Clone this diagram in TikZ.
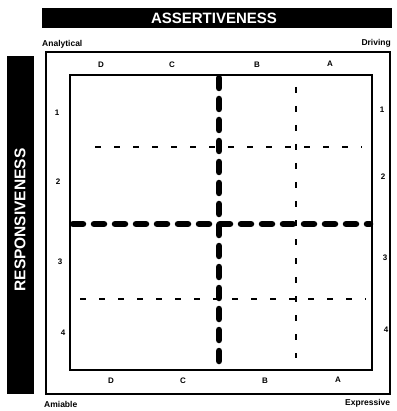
\documentclass[tikz,border=0pt]{standalone}
\usepackage{fontspec}
\setmainfont{Liberation Sans}
\begin{document}
\begin{tikzpicture}[x=1pt,y=-1pt,
  banner/.style={text=white, font=\bfseries\fontsize{15}{16}\selectfont, inner sep=0},
  corner/.style={font=\bfseries\fontsize{8.5}{9}\selectfont, inner sep=0},
  lbl/.style={font=\bfseries\fontsize{8}{9}\selectfont, inner sep=0},
  boxline/.style={line width=2pt},
  bigdash/.style={line width=6.5pt, line cap=round, dash pattern=on 10pt off 11pt},
  smalldash/.style={line width=1.8pt, dash pattern=on 6pt off 13pt}]
\useasboundingbox (0,0) rectangle (396,411);
% banners
\fill (42,8) rectangle (392,28);
\node[banner] (assert) at (214,18) {ASSERTIVENESS};
\fill (7,56) rectangle (34,394);
\node[banner, rotate=90, font=\bfseries\fontsize{15.5}{16}\selectfont] (resp) at (20,220) {RESPONSIVENESS};
% corner labels
\node[corner, anchor=west] (analytical) at (42,44) {Analytical};
\node[corner, anchor=east] (driving) at (391,43) {Driving};
\node[corner, anchor=west] (amiable) at (44,404) {Amiable};
\node[corner, anchor=west] (expressive) at (345,403) {Expressive};
% boxes
\draw[boxline] (46,52) rectangle (390,394);
\draw[line width=2.5pt] (70,75) rectangle (372,370);
% grid coordinates
\coordinate (h1a) at (95,147);  \coordinate (h1b) at (362,147);
\coordinate (h3a) at (80,299);  \coordinate (h3b) at (366,299);
\coordinate (v1a) at (296,87);  \coordinate (v1b) at (296,358);
\coordinate (hma) at (73,224);  \coordinate (hmb) at (370,224);
\coordinate (vma) at (219,78);  \coordinate (vmb) at (219,367);
\draw[smalldash] (h1a) -- (h1b);
\draw[smalldash] (h3a) -- (h3b);
\draw[smalldash] (v1a) -- (v1b);
\draw[bigdash] (hma) -- (hmb);
\draw[bigdash] (vma) -- (vmb);
% column letters
\node[lbl] (tD) at (101,65) {D};
\node[lbl] (tC) at (172,65) {C};
\node[lbl] (tB) at (257,65) {B};
\node[lbl] (tA) at (330,64) {A};
\node[lbl] (bD) at (111,381) {D};
\node[lbl] (bC) at (183,381) {C};
\node[lbl] (bB) at (265,381) {B};
\node[lbl] (bA) at (338,380) {A};
% row numbers
\node[lbl] (l1) at (57,113) {1};
\node[lbl] (l2) at (58,182) {2};
\node[lbl] (l3) at (60,262) {3};
\node[lbl] (l4) at (63,333) {4};
\node[lbl] (r1) at (382,110) {1};
\node[lbl] (r2) at (383,177) {2};
\node[lbl] (r3) at (385,258) {3};
\node[lbl] (r4) at (386,330) {4};
\end{tikzpicture}
\end{document}
